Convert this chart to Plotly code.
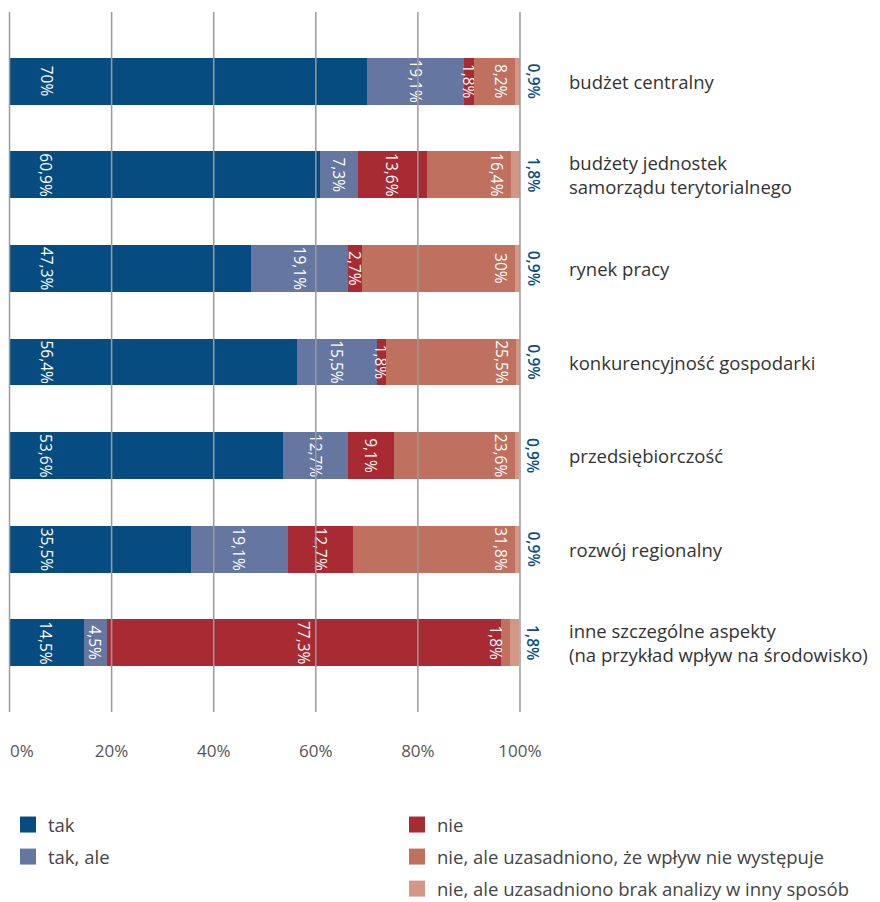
import plotly.graph_objects as go

categories = [
    "budżet centralny",
    "budżety jednostek<br>samorządu terytorialnego",
    "rynek pracy",
    "konkurencyjność gospodarki",
    "przedsiębiorczość",
    "rozwój regionalny",
    "inne szczególne aspekty<br>(na przykład wpływ na środowisko)",
]
series_names = [
    "tak",
    "tak, ale",
    "nie",
    "nie, ale uzasadniono, że wpływ nie występuje",
    "nie, ale uzasadniono brak analizy w inny sposób",
]
tak = [70, 60.9, 47.3, 56.4, 53.6, 35.5, 14.5]
tak_ale = [19.1, 7.3, 19.1, 15.5, 12.7, 19.1, 4.5]
nie = [1.8, 13.6, 2.7, 1.8, 9.1, 12.7, 77.3]
nie_wplyw = [8.2, 16.4, 30, 25.5, 23.6, 31.8, 1.8]
nie_brak = [0.9, 1.8, 0.9, 0.9, 0.9, 0.9, 1.8]
series_values = [tak, tak_ale, nie, nie_wplyw, nie_brak]
colors = ["#074c80", "#6577a0", "#a82a33", "#c0705f", "#d39785"]
tick_vals = [0, 20, 40, 60, 80, 100]
tick_labels = ["0%", "20%", "40%", "60%", "80%", "100%"]

FONT = "Open Sans"
W, H = 872, 894  # page body adds an 8px margin


def fmt(v):
    return f"{v:g}".replace(".", ",") + "%"


fig = go.Figure()
n = len(categories)
ypos = list(range(n))
anchors = [None, "middle", "middle", "end", None]
for i, (name, vals, col) in enumerate(zip(series_names, series_values, colors)):
    last = i == len(series_names) - 1
    first = i == 0
    fig.add_trace(go.Bar(
        x=vals, y=ypos, orientation="h", name=name,
        marker=dict(color=col, line=dict(width=0)),
        width=0.5,
        text=None if first else [fmt(v) for v in vals],
        textposition="outside" if last else ("none" if first else "inside"),
        insidetextanchor=anchors[i] or "middle",
        textangle=90,
        constraintext="none",
        cliponaxis=False,
        textfont=dict(family=FONT, size=15.5,
                      color="#0b4f85" if last else "white",
                      weight=600 if last else 400),
        showlegend=False,
        hoverinfo="skip",
    ))
    # legend entries
    fig.add_trace(go.Scatter(
        x=[None], y=[None], mode="markers", name=name,
        marker=dict(symbol="square", size=20, color=col),
        legend="legend" if i < 2 else "legend2",
        legendgroup=name,
        showlegend=True,
    ))

# labels of the first series, near the bar start
for yi, v in enumerate(tak):
    fig.add_annotation(x=0, xref="x", y=yi, yref="y", text=fmt(v), textangle=90,
                       xshift=37, showarrow=False,
                       font=dict(family=FONT, size=15.5, color="white"))

# gridlines over bars
for tv in tick_vals:
    fig.add_shape(type="line", xref="x", yref="paper", x0=tv, x1=tv, y0=0, y1=1,
                  line=dict(color="#9a9a9a", width=1.5), layer="above")

# first tick label, kept inside the page (left-aligned at the axis start)
fig.add_annotation(x=tick_vals[0], xref="x", y=0, yref="paper", text=tick_labels[0],
                   xanchor="left", yanchor="middle", xshift=-2, yshift=-38,
                   showarrow=False, font=dict(family=FONT, size=17, color="#555555"))

for yi, cat in enumerate(categories):
    fig.add_annotation(x=1, xref="paper", y=yi, yref="y", text=cat,
                       xanchor="left", xshift=46, align="left", showarrow=False,
                       font=dict(family=FONT, size=18.5, color="#333333"))

legend_common = dict(orientation="v", font=dict(family=FONT, size=18.5, color="#444444"),
                     bgcolor="rgba(0,0,0,0)", itemsizing="trace",
                     traceorder="grouped", tracegroupgap=5,
                     xref="container", yref="container",
                     xanchor="left", yanchor="top")

fig.update_layout(
    width=W, height=H,
    margin=dict(l=0, r=359, t=4, b=190, autoexpand=False),
    paper_bgcolor="white", plot_bgcolor="white",
    barmode="stack",
    xaxis=dict(range=[-0.3, 100.2], tickvals=tick_vals,
               ticktext=[""] + tick_labels[1:],
               showgrid=False, zeroline=False, showline=False,
               ticks="outside", ticklen=24, tickcolor="rgba(0,0,0,0)",
               tickfont=dict(family=FONT, size=17, color="#555555")),
    yaxis=dict(range=[n - 1 + 0.74, -0.74], showgrid=False, zeroline=False,
               showticklabels=False, showline=False),
    legend=dict(x=0, y=(H - 798) / H, **legend_common),
    legend2=dict(x=389 / W, y=(H - 798) / H, **legend_common),
    showlegend=True,
)

fig.write_html("out.html")
